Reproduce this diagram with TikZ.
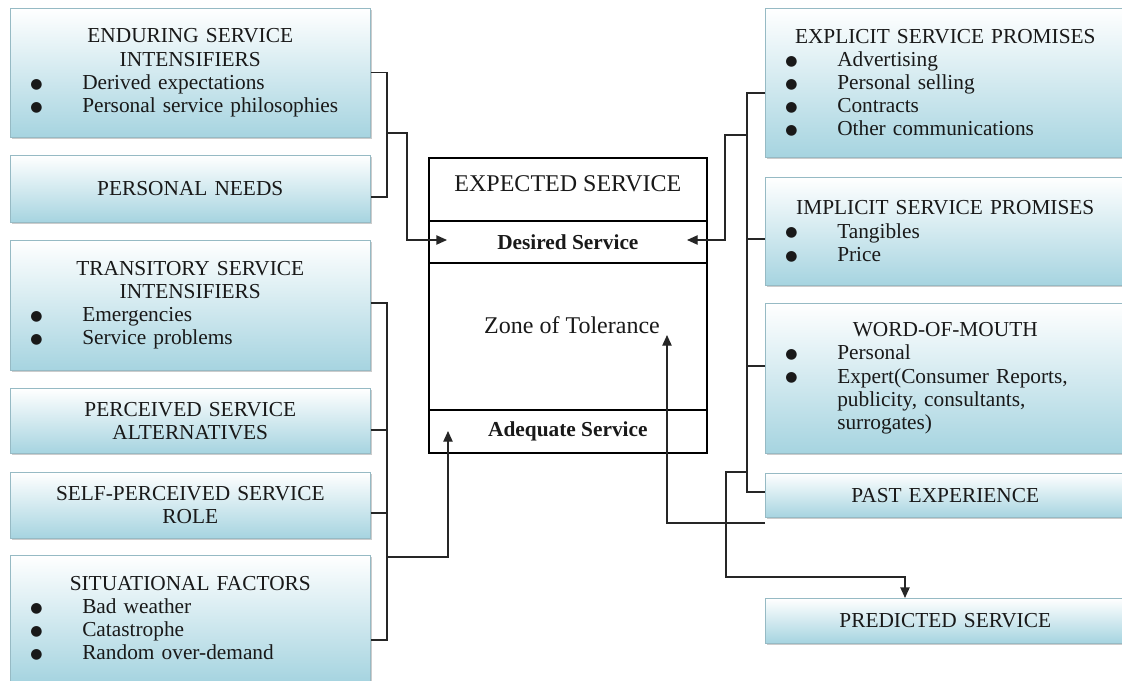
\documentclass[tikz,border=0pt]{standalone}
\usepackage{fontspec}
\setmainfont{Liberation Serif}
\newfontfamily\bulfont{DejaVu Sans}
\usetikzlibrary{shadows,arrows.meta}

\definecolor{boxblue}{RGB}{166,212,224}
\definecolor{boxline}{RGB}{150,186,196}
\newcommand\bul{\makebox[39pt][l]{\raisebox{0.8pt}{\bulfont\fontsize{10.5}{10.5}\selectfont ●}}}
\newcommand\bulgap{\hspace*{39pt}}

\begin{document}
\begin{tikzpicture}[x=0.75pt,y=-0.75pt,
  every node/.style={font=\fontsize{16}{17.3}\selectfont, text=black!90},
  box/.style={draw=boxline, top color=white, bottom color=boxblue,
    drop shadow={shadow xshift=1pt,shadow yshift=-1.5pt,fill=black!40},
    anchor=north west, minimum width=270pt, text width=240pt,
    inner xsep=15pt, inner ysep=0pt, align=left},
  mid/.style={draw, line width=1.3pt, anchor=north west,
    minimum width=208.5pt, inner sep=0pt},
  link/.style={line width=1pt, draw=black!85},
  arr/.style={link, -{Triangle[length=8pt,width=7pt]}}]
  \useasboundingbox (0,0) rectangle (1122,681);

  % left column
  \node[box, minimum height=96.75pt] (enduring) at (10,8)
    {{\centering ENDURING SERVICE\\ INTENSIFIERS\par}
     \bul Derived expectations\par
     \bul Personal service philosophies};
  \node[box, minimum height=50.25pt] (needs) at (10,155)
    {{\centering PERSONAL NEEDS\par}};
  \node[box, minimum height=97.5pt] (transitory) at (10,240)
    {{\centering TRANSITORY SERVICE\\ INTENSIFIERS\par}
     \bul Emergencies\par
     \bul Service problems};
  \node[box, minimum height=48.75pt] (alternatives) at (10,388)
    {{\centering PERCEIVED SERVICE\\ ALTERNATIVES\par}};
  \node[box, minimum height=49.5pt] (selfrole) at (10,472)
    {{\centering SELF-PERCEIVED SERVICE\\ ROLE\par}};
  \node[box, minimum height=94.5pt] (situational) at (10,555)
    {{\centering SITUATIONAL FACTORS\par}
     \bul Bad weather\par
     \bul Catastrophe\par
     \bul Random over-demand};

  % right column
  \node[box, minimum height=111.75pt] (explicit) at (765,8)
    {{\centering EXPLICIT SERVICE PROMISES\par}
     \bul Advertising\par
     \bul Personal selling\par
     \bul Contracts\par
     \bul Other communications};
  \node[box, minimum height=81pt] (implicit) at (765,177)
    {{\centering IMPLICIT SERVICE PROMISES\par}
     \bul Tangibles\par
     \bul Price};
  \node[box, minimum height=112.5pt] (wordofmouth) at (765,303)
    {{\centering WORD-OF-MOUTH\par}
     \bul Personal\par
     \bul Expert(Consumer Reports,\\
     \bulgap publicity, consultants,\\
     \bulgap surrogates)};
  \node[box, minimum height=33pt] (past) at (765,473)
    {{\centering PAST EXPERIENCE\par}};
  \node[box, minimum height=33.75pt] (predicted) at (765,598)
    {{\centering PREDICTED SERVICE\par}};

  % expected service
  \node[mid, minimum height=47.25pt, text depth=9pt,
    font=\fontsize{18}{20}\selectfont] (expected) at (428,157) {EXPECTED SERVICE};
  \node[mid, minimum height=31.5pt, font=\fontsize{16}{17}\selectfont\bfseries]
    (desired) at (428,220) {Desired Service};
  \node[mid, minimum height=110.25pt] (zone) at (428,262) {};
  \node[font=\fontsize{18}{20}\selectfont] (tolerance) at (572,325) {Zone of Tolerance};
  \node[mid, minimum height=32.25pt, font=\fontsize{16}{17}\selectfont\bfseries]
    (adequate) at (428,409) {Adequate Service};

  \coordinate (desiredL) at (447,240);
  \coordinate (desiredR) at (687,240);
  \coordinate (adequateIn) at (448,431);
  \coordinate (zoneIn) at (667,335);

  % connectors
  \draw[link] (enduring.east) -| (387,197) -- (needs.east |- 0,197);
  \draw[arr] (387,133) -- (407,133) |- (desiredL);
  \draw[link] (transitory.east |- 0,303) -| (387,640) -- (situational.east |- 0,640);
  \draw[link] (alternatives.east |- 0,430) -- (387,430);
  \draw[link] (selfrole.east |- 0,513) -- (387,513);
  \draw[arr] (387,557) -| (adequateIn);

  \draw[link] (explicit.west |- 0,93) -| (747,492) -- (past.west |- 0,492);
  \draw[link] (implicit.west |- 0,239) -- (747,239);
  \draw[link] (wordofmouth.west |- 0,366) -- (747,366);
  \draw[arr] (747,135) -- (725,135) |- (desiredR);
  \draw[arr] (past.west |- 0,523) -| (zoneIn);
  \draw[arr] (747,472) -- (726,472) |- (905,577) -- (predicted.north -| 905,0);
\end{tikzpicture}
\end{document}
